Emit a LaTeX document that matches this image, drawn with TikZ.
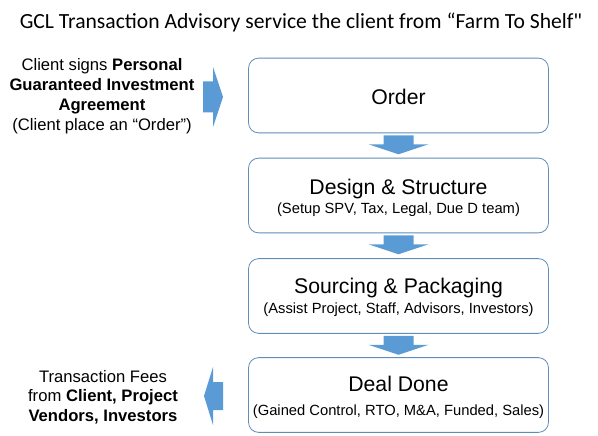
\documentclass[tikz,border=0pt]{standalone}
\usepackage{fontspec}
\setmainfont{Liberation Sans}
\newfontfamily\headfont{Carlito}
\usetikzlibrary{calc}

\definecolor{boxline}{RGB}{96,140,185}
\definecolor{arrowblue}{RGB}{91,155,213}

\tikzset{
  stage/.style={draw=boxline, line width=0.8pt, rounded corners=10, minimum width=301, minimum height=75, inner sep=0},
  head/.style={font=\fontsize{21.3}{25}\selectfont},
  sub/.style={font=\fontsize{14.8}{17}\selectfont},
  side/.style={align=center, font=\fontsize{16.7}{20}\selectfont},
  downarr/.pic={\fill[arrowblue] (-15,0) -- (15,0) -- (15,9) -- (30,9) -- (0,19) -- (-30,9) -- (-15,9) -- cycle;},
  rightarr/.pic={\fill[arrowblue] (0,-15.5) -- (10,-15.5) -- (10,-30) -- (20,0) -- (10,30) -- (10,15.5) -- (0,15.5) -- cycle;},
  leftarr/.pic={\fill[arrowblue] (0,-14) -- (-10,-14) -- (-10,-29) -- (-19,0) -- (-10,29) -- (-10,14) -- (0,14) -- cycle;}
}

\begin{document}
\begin{tikzpicture}[x=1bp,y=-1bp]
  \useasboundingbox (0,0) rectangle (598,436);

  % title
  \node[font=\headfont\fontsize{21.7}{26}\selectfont] (title) at (301,22) {GCL Transaction Advisory service the client from “Farm To Shelf"};

  % the four stages
  \node[stage] (order) at (398.5,95.5) {};
  \node[stage] (design) at (398.5,195.5) {};
  \node[stage] (sourcing) at (398.5,296) {};
  \node[stage] (deal) at (398.5,395) {};

  \node[head] (orderhead) at (398.5,97) {Order};
  \node[head] (designhead) at (398.5,189) {Design \& Structure};
  \node[sub] (designsub) at (398.5,210) {(Setup SPV, Tax, Legal, Due D team)};
  \node[head] (sourcinghead) at (398.5,288) {Sourcing \& Packaging};
  \node[sub] (sourcingsub) at (398.5,310) {(Assist Project, Staff, Advisors, Investors)};
  \node[head] (dealhead) at (398.5,384) {Deal Done};
  \node[sub] (dealsub) at (398.5,412) {(Gained Control, RTO, M\&A, Funded, Sales)};

  % arrows between stages
  \pic at ($(order.south)+(0,2)$) {downarr};
  \pic at ($(design.south)+(0,2)$) {downarr};
  \pic at ($(sourcing.south)+(0,2)$) {downarr};

  % side notes
  \node[side] (signs) at (102,96) {Client signs \textbf{Personal}\\ \textbf{Guaranteed Investment}\\ \textbf{Agreement}\\ (Client place an “Order”)};
  \pic at (203,97) {rightarr};

  \node[side, font=\fontsize{16.7}{19.5}\selectfont] (fees) at (103,397) {Transaction Fees\\ from \textbf{Client, Project}\\ \textbf{Vendors, Investors}};
  \pic at (223,396) {leftarr};
\end{tikzpicture}
\end{document}
